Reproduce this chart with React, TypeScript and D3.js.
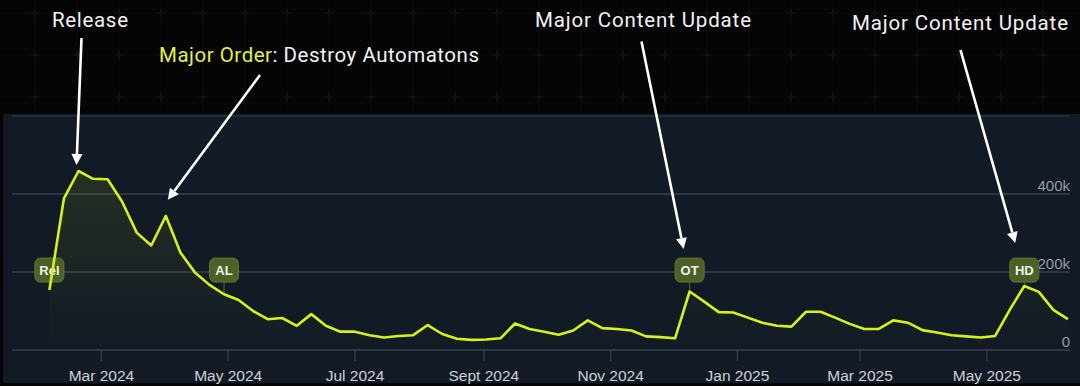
import React from 'react';
import * as d3 from 'd3';

// weekly player counts
const weeks: string[] = [
  '2024-02-05', '2024-02-12', '2024-02-19', '2024-02-26',
  '2024-03-04', '2024-03-11', '2024-03-18', '2024-03-25',
  '2024-04-01', '2024-04-08', '2024-04-15', '2024-04-22', '2024-04-29',
  '2024-05-06', '2024-05-13', '2024-05-20', '2024-05-27',
  '2024-06-03', '2024-06-10', '2024-06-17', '2024-06-24',
  '2024-07-01', '2024-07-08', '2024-07-15', '2024-07-22', '2024-07-29',
  '2024-08-05', '2024-08-12', '2024-08-19', '2024-08-26',
  '2024-09-02', '2024-09-09', '2024-09-16', '2024-09-23', '2024-09-30',
  '2024-10-07', '2024-10-14', '2024-10-21', '2024-10-28',
  '2024-11-04', '2024-11-11', '2024-11-18', '2024-11-25',
  '2024-12-02', '2024-12-09', '2024-12-16', '2024-12-23', '2024-12-30',
  '2025-01-06', '2025-01-13', '2025-01-20', '2025-01-27',
  '2025-02-03', '2025-02-10', '2025-02-17', '2025-02-24',
  '2025-03-03', '2025-03-10', '2025-03-17', '2025-03-24', '2025-03-31',
  '2025-04-07', '2025-04-14', '2025-04-21', '2025-04-28',
  '2025-05-05', '2025-05-12', '2025-05-19', '2025-05-26',
  '2025-06-02', '2025-06-09',
];

const players: number[] = [
  154000, 389000, 459000, 439000, 438000, 380000, 301000, 268000,
  344000, 250000, 199000, 167000, 143000, 128000, 100000, 79000,
  82000, 62000, 92000, 62000, 47000, 47000,
  38000, 32000, 36000, 38000, 64000, 41000, 29000, 26000, 27000,
  30000, 68000, 54000, 47000, 39000, 50000, 76000, 56000, 54000,
  50000, 35000, 33000, 30000, 150000, 124000, 97000,
  96000, 83000, 70000, 62000, 60000, 98000, 98000, 83000, 67000,
  54000, 54000, 76000, 70000, 51000, 45000, 38000, 35000, 32000,
  36000, 103000, 164000, 149000, 103000, 79000,
];

const monthTicks = ['2024-03-01', '2024-05-01', '2024-07-01', '2024-09-01', '2024-11-01', '2025-01-01', '2025-03-01', '2025-05-01'];
const monthLabels = ['Mar 2024', 'May 2024', 'Jul 2024', 'Sept 2024', 'Nov 2024', 'Jan 2025', 'Mar 2025', 'May 2025'];

const yTicks = [0, 200000, 400000, 600000];
const yLabels = ['0', '200k', '400k', ''];

const badgeLabels = ['Rel', 'AL', 'OT', 'HD'];
const badgeDates = ['2024-02-05', '2024-04-29', '2024-12-09', '2025-05-19'];

const W = 1080;
const H = 386;
const LIME = '#d6f21c';

const parse = d3.utcParse('%Y-%m-%d');

export default function App() {
  const x = d3.scaleUtc()
    .domain([parse('2024-01-18')!, parse('2025-06-10')!])
    .range([12, 1070]);
  const y = d3.scaleLinear().domain([0, 600000]).range([350, 116]);

  const pts = weeks.map((w, i) => ({ d: parse(w)!, v: players[i] }));
  const valueAt = (s: string) => {
    const p = pts.find((q) => +q.d === +parse(s)!);
    return p ? p.v : 0;
  };

  const line = d3.line<{ d: Date; v: number }>().x((p) => x(p.d)).y((p) => y(p.v));
  const area = d3.area<{ d: Date; v: number }>().x((p) => x(p.d)).y0(y(0)).y1((p) => y(p.v));

  const badgeY = y(205000);

  // annotation arrows: tail in px, tip anchored to a data point
  const arrows = [
    { tail: [81.5, 38], tip: [x(parse('2024-02-19')!) - 2, y(valueAt('2024-02-19')) - 6] },
    { tail: [260, 75], tip: [x(parse('2024-04-01')!) + 2, y(valueAt('2024-04-01')) - 16] },
    { tail: [641.5, 41.5], tip: [x(parse('2024-12-09')!) - 6, badgeY - 21] },
    { tail: [960.5, 50], tip: [x(parse('2025-05-19')!) - 9, badgeY - 27] },
  ];

  const gridXs = d3.range(-7, W, 42);
  const gridYs = d3.range(13, 112, 42);

  const arrowPath = (a: { tail: number[]; tip: number[] }) => {
    const [x0, y0] = a.tail;
    const [x1, y1] = a.tip;
    const dx = x1 - x0, dy = y1 - y0;
    const len = Math.hypot(dx, dy);
    const ux = dx / len, uy = dy / len;
    const hl = 11, hw = 5.5;
    const bx = x1 - ux * hl, by = y1 - uy * hl;
    return {
      shaft: `M${x0},${y0}L${bx},${by}`,
      head: `M${x1},${y1}L${bx - uy * hw},${by + ux * hw}L${bx + uy * hw},${by - ux * hw}Z`,
    };
  };

  return (
    <div style={{ position: 'fixed', left: 0, top: 0, width: W, height: H, background: '#050505' }}>
      <svg width={W} height={H} style={{ display: 'block' }}>
        <defs>
          <linearGradient id="fillg" x1="0" y1="0" x2="0" y2="1">
            <stop offset="0%" stopColor={LIME} stopOpacity={0.1} />
            <stop offset="100%" stopColor={LIME} stopOpacity={0.0} />
          </linearGradient>
        </defs>

        {/* top backdrop grid */}
        <g>
          {gridXs.map((gx) => (
            <line key={'gx' + gx} x1={gx} x2={gx} y1={0} y2={113} stroke="#0b0b0b" />
          ))}
          {gridYs.map((gy) => (
            <line key={'gy' + gy} x1={0} x2={W} y1={gy} y2={gy} stroke="#0b0b0b" />
          ))}
          {gridXs.map((gx) =>
            gridYs.map((gy) => (
              <path key={`c${gx}-${gy}`} d={`M${gx - 4},${gy}H${gx + 4}M${gx},${gy - 4}V${gy + 4}`} stroke="#171717" />
            ))
          )}
        </g>

        {/* chart panel */}
        <rect x={3} y={114} width={W - 3} height={269} fill="#121a25" />
        <rect x={0} y={383} width={W} height={3} fill="#050505" />

        {/* y grid + labels */}
        {yTicks.map((t, i) => (
          <g key={'y' + t}>
            <line x1={12} x2={1070} y1={y(t)} y2={y(t)} stroke={i === 3 ? '#2a3442' : '#364150'} strokeWidth={1.5} />
            <text x={1070} y={y(t) - 3} textAnchor="end" fontFamily="Liberation Sans, Arial, sans-serif" fontSize={15} fill="#959ca6">
              {yLabels[i]}
            </text>
          </g>
        ))}

        {/* x ticks */}
        {monthTicks.map((m, i) => (
          <g key={m} transform={`translate(${x(parse(m)!)},0)`}>
            <line y1={y(0)} y2={y(0) + 11} stroke="#364150" strokeWidth={1.2} />
            <text y={381} textAnchor="middle" fontFamily="Liberation Sans, Arial, sans-serif" fontSize={15.5} fill="#cdd1d7">
              {monthLabels[i]}
            </text>
          </g>
        ))}

        <path d={area(pts) || ''} fill="url(#fillg)" />

        {/* badges */}
        {badgeLabels.map((b, i) => {
          const bx = x(parse(badgeDates[i])!);
          const vy = y(valueAt(badgeDates[i]));
          return (
            <g key={b}>
              <line x1={bx} x2={bx} y1={badgeY + 11} y2={vy} stroke="#55683a" strokeWidth={1} />
              <rect x={bx - 14.5} y={badgeY - 12} width={29} height={24} rx={5.5} fill="#4d6127" stroke="#627833" strokeWidth={1} />
              <text x={bx} y={badgeY + 4.8} textAnchor="middle" fontFamily="Liberation Sans, Arial, sans-serif" fontWeight="bold" fontSize={13} fill="#f2f4ee">
                {b}
              </text>
            </g>
          );
        })}

        <path d={line(pts) || ''} fill="none" stroke={LIME} strokeWidth={2.6} strokeLinejoin="round" />

        {/* annotations */}
        {arrows.map((a, i) => {
          const p = arrowPath(a);
          return (
            <g key={'a' + i}>
              <path d={p.shaft} stroke="#ffffff" strokeWidth={2.6} />
              <path d={p.head} fill="#ffffff" />
            </g>
          );
        })}
        <g fontFamily="Roboto, sans-serif" fontSize={20.5} fill="#f2f2f2">
          <text x={52} y={27} textLength={76} lengthAdjust="spacing">Release</text>
          <text x={159} y={62} textLength={320} lengthAdjust="spacing">
            <tspan fill="#e4ee4c">Major Order</tspan>: Destroy Automatons
          </text>
          <text x={535} y={27} textLength={216} lengthAdjust="spacing">Major Content Update</text>
          <text x={852} y={29.5} textLength={216} lengthAdjust="spacing">Major Content Update</text>
        </g>
      </svg>
    </div>
  );
}
